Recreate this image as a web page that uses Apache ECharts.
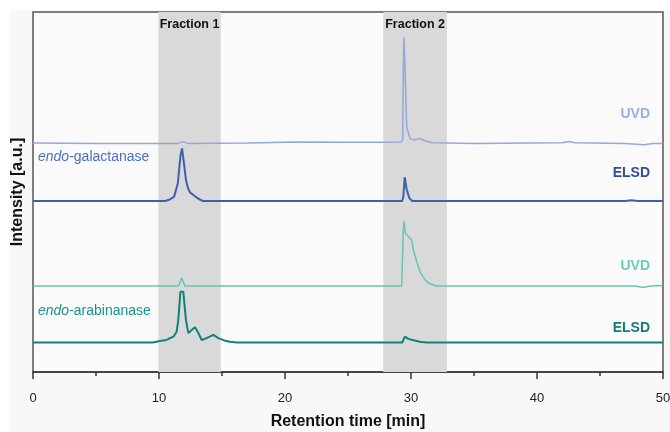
<!DOCTYPE html>
<html>
<head>
<meta charset="utf-8">
<script src="https://cdn.jsdelivr.net/npm/echarts@6/dist/echarts.min.js"></script>
<style>
  html, body { margin: 0; padding: 0; background: #fff; }
  #chart { width: 670px; height: 432px; }
</style>
</head>
<body>
<div id="chart"></div>
<script>
// 保留时间 [min] 与相对强度（相对各自基线）
const uvdGalactanase = [
  [0, 0.1], [5, 0], [11.5, 0], [11.9, 0.5], [12.3, 0], [17, 0.1], [21, 0.4], [25, 0.3],
  [27.5, 0.3], [29.2, 0.4], [29.34, 1.0], [29.39, 21], [29.44, 29.5], [29.5, 23.5],
  [29.55, 17.5], [29.66, 4.4], [29.92, 1.4], [30.3, 0.9], [30.7, 1.4], [31.2, 0.6],
  [31.75, 0.2], [35, 0], [42, 0.2], [42.5, 0.5], [43, 0.2], [47, 0], [48.5, -0.4],
  [49.2, 0], [50, 0]
]
const elsdGalactanase = [
  [0, 0], [10.5, 0], [10.9, 0.5], [11.2, 1.2], [11.5, 5.0], [11.7, 12.5], [11.83, 14.6],
  [11.98, 10.5], [12.14, 5.8], [12.3, 3.6], [12.46, 2.4], [12.86, 1.3], [13.25, 0.4],
  [13.5, 0], [29.3, 0], [29.39, 1.1], [29.5, 6.6], [29.66, 3.2], [29.87, 0.8], [30.1, 0],
  [47, 0], [47.5, 0.2], [48, 0], [50, 0]
]
const uvdArabinanase = [
  [0, 0], [11.55, 0], [11.8, 2.3], [12.05, 0], [29.26, 0], [29.39, 15.6], [29.44, 18.1],
  [29.55, 14.7], [29.79, 13.7], [30.05, 12.8], [30.19, 10], [30.45, 6.8], [30.71, 4.0],
  [31.11, 1.7], [31.5, 0.6], [32.04, 0], [47.8, 0], [48.4, -0.4], [49, 0], [50, 0.1]
]
const elsdArabinanase = [
  [0, 0], [9.5, 0], [10.08, 0.4], [10.6, 0.7], [11.14, 1.6], [11.4, 3.0], [11.53, 6.2],
  [11.7, 14.1], [11.93, 14.1], [12.01, 11.0], [12.14, 6.2], [12.33, 2.6], [12.46, 2.3],
  [12.7, 3.8], [12.86, 4.2], [13.1, 2.8], [13.39, 0.7], [13.78, 1.2], [14.31, 2.1],
  [14.71, 1.2], [15.24, 0.5], [15.63, 0.2], [16.2, 0], [29.3, 0], [29.52, 1.6],
  [29.8, 1.0], [30.2, 0.6], [30.7, 0.2], [31.2, 0], [50, 0]
]
// 各曲线的基线偏移量（堆叠显示）
const traceOffsets = [63.5, 47.5, 23.9, 8.2]
const traceNames = ['UVD', 'ELSD', 'UVD', 'ELSD']
// 收集区间
const fractionNames = ['Fraction 1', 'Fraction 2']
const fractionRanges = [[9.95, 14.9], [27.8, 32.85]]
const xTicks = [0, 10, 20, 30, 40, 50]

const font = 'Liberation Sans, Arial, sans-serif'
const lineColors = ['#94a8dc', '#3e60aa', '#63c6b6', '#13807a']
const labelColors = ['#9ab0e0', '#2f4f9a', '#6ccbbb', '#137d77']

const chartInstance = echarts.init(document.getElementById('chart'))

const traces = [uvdGalactanase, elsdGalactanase, uvdArabinanase, elsdArabinanase]
const lineSeries = traces.map((trace, i) => {
  return {
    type: 'line',
    name: traceNames[i],
    z: 3,
    showSymbol: false,
    symbol: 'none',
    lineStyle: { color: lineColors[i], width: i % 2 === 0 ? 1.5 : 2 },
    data: trace.map((p) => [p[0], p[1] + traceOffsets[i]])
  }
})

// 右侧检测器标签位置
const rightLabelY = [114, 173, 266, 328]

const option = {
  backgroundColor: '#ffffff',
  animation: false,
  grid: {
    show: true,
    left: 33,
    right: 7,
    top: 12,
    bottom: 60,
    outerBoundsMode: 'none',
    containLabel: false,
    backgroundColor: '#fafafa',
    borderColor: '#555',
    borderWidth: 1.5
  },
  xAxis: {
    type: 'value',
    min: xTicks[0],
    max: xTicks[xTicks.length - 1],
    interval: 10,
    name: 'Retention time [min]',
    nameLocation: 'middle',
    nameGap: 42,
    nameTextStyle: { fontFamily: font, fontSize: 16, fontWeight: 'bold', color: '#111' },
    axisLine: { show: true, lineStyle: { color: '#333', width: 1.5 } },
    axisTick: { show: true, length: 7, lineStyle: { color: '#333', width: 1.5 } },
    minorTick: { show: true, splitNumber: 2, length: 4, lineStyle: { color: '#333', width: 1.5 } },
    splitLine: { show: false },
    axisLabel: { fontFamily: font, fontSize: 13, color: '#222', margin: 20 }
  },
  yAxis: {
    type: 'value',
    min: 0,
    max: 100,
    axisLine: { show: false },
    axisTick: { show: false },
    axisLabel: { show: false },
    splitLine: { show: false }
  },
  graphic: [
    {
      type: 'rect',
      z: -100,
      silent: true,
      shape: { x: 10, y: 10, width: 660, height: 422 },
      style: { fill: '#f8f8f8' }
    },
    {
      type: 'text',
      x: 18,
      y: 192,
      rotation: Math.PI / 2,
      style: {
        text: 'Intensity [a.u.]',
        font: 'bold 16px ' + font,
        fill: '#111',
        textAlign: 'center',
        textVerticalAlign: 'middle'
      }
    },
    {
      type: 'text',
      x: 38,
      y: 157,
      z: 10,
      style: {
        text: '{i|endo}-galactanase',
        font: '14px ' + font,
        fill: '#4d6fc0',
        textVerticalAlign: 'middle',
        rich: { i: { fontStyle: 'italic', fontFamily: font, fontSize: 14, fill: '#4d6fc0', color: '#4d6fc0' } }
      }
    },
    {
      type: 'text',
      x: 38,
      y: 311,
      z: 10,
      style: {
        text: '{i|endo}-arabinanase',
        font: '14px ' + font,
        fill: '#1a9488',
        textVerticalAlign: 'middle',
        rich: { i: { fontStyle: 'italic', fontFamily: font, fontSize: 14, fill: '#1a9488', color: '#1a9488' } }
      }
    }
  ].concat(
    traceNames.map((name, i) => {
      return {
        type: 'text',
        x: 650,
        y: rightLabelY[i],
        z: 10,
        style: {
          text: name,
          font: 'bold 14px ' + font,
          fill: labelColors[i],
          textAlign: 'right',
          textVerticalAlign: 'middle'
        }
      }
    })
  ),
  series: [
    {
      type: 'line',
      z: 1,
      data: [],
      markArea: {
        silent: true,
        itemStyle: { color: '#d9d9d9' },
        label: {
          show: true,
          position: 'insideTop',
          distance: 6,
          fontFamily: font,
          fontSize: 12.5,
          fontWeight: 'bold',
          color: '#111'
        },
        data: fractionRanges.map((r, i) => [
          { name: fractionNames[i], xAxis: r[0] },
          { xAxis: r[1] }
        ])
      }
    }
  ].concat(lineSeries)
}

chartInstance.setOption(option)
</script>
</body>
</html>
